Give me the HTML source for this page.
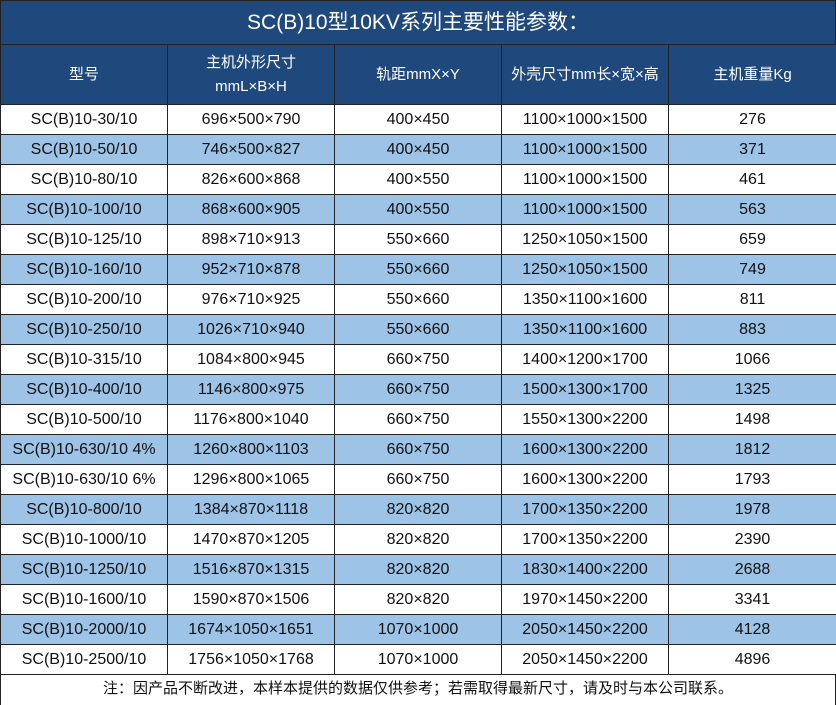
<!DOCTYPE html>
<html><head><meta charset="utf-8"><style>
body{margin:0;width:836px;height:705px;background:#fff;overflow:hidden;font-family:"Liberation Sans","Noto Sans CJK SC",sans-serif;}
.title{position:absolute;left:0;top:0;width:834px;height:44px;background:#1f487c;border:1px solid #222;border-bottom:none;color:#fff;font-size:21px;line-height:44px;text-align:center;}
table{position:absolute;left:0;top:44px;border-collapse:collapse;table-layout:fixed;width:836px;}
td,th{border:1px solid #222;text-align:center;font-size:16px;color:#111;padding:0;height:29px;font-weight:normal;white-space:nowrap;}
th{background:#1f487c;color:#fff;height:59px;line-height:24px;font-size:15px;}
tr.b td{background:#9dc3e6;}
.foot{position:absolute;left:0;top:674px;width:834px;height:31px;border-left:1px solid #222;border-right:1px solid #222;font-size:15px;line-height:30px;text-align:center;color:#111;}
</style></head><body>
<div class="title">SC(B)10型10KV系列主要性能参数：</div>
<table>
<colgroup><col style="width:167px"><col style="width:167px"><col style="width:167px"><col style="width:167px"><col style="width:168px"></colgroup>
<tr><th>型号</th><th>主机外形尺寸<br>mmL×B×H</th><th>轨距mmX×Y</th><th>外壳尺寸mm长×宽×高</th><th>主机重量Kg</th></tr>
<tr><td>SC(B)10-30/10</td><td>696×500×790</td><td>400×450</td><td>1100×1000×1500</td><td>276</td></tr>
<tr class="b"><td>SC(B)10-50/10</td><td>746×500×827</td><td>400×450</td><td>1100×1000×1500</td><td>371</td></tr>
<tr><td>SC(B)10-80/10</td><td>826×600×868</td><td>400×550</td><td>1100×1000×1500</td><td>461</td></tr>
<tr class="b"><td>SC(B)10-100/10</td><td>868×600×905</td><td>400×550</td><td>1100×1000×1500</td><td>563</td></tr>
<tr><td>SC(B)10-125/10</td><td>898×710×913</td><td>550×660</td><td>1250×1050×1500</td><td>659</td></tr>
<tr class="b"><td>SC(B)10-160/10</td><td>952×710×878</td><td>550×660</td><td>1250×1050×1500</td><td>749</td></tr>
<tr><td>SC(B)10-200/10</td><td>976×710×925</td><td>550×660</td><td>1350×1100×1600</td><td>811</td></tr>
<tr class="b"><td>SC(B)10-250/10</td><td>1026×710×940</td><td>550×660</td><td>1350×1100×1600</td><td>883</td></tr>
<tr><td>SC(B)10-315/10</td><td>1084×800×945</td><td>660×750</td><td>1400×1200×1700</td><td>1066</td></tr>
<tr class="b"><td>SC(B)10-400/10</td><td>1146×800×975</td><td>660×750</td><td>1500×1300×1700</td><td>1325</td></tr>
<tr><td>SC(B)10-500/10</td><td>1176×800×1040</td><td>660×750</td><td>1550×1300×2200</td><td>1498</td></tr>
<tr class="b"><td>SC(B)10-630/10 4%</td><td>1260×800×1103</td><td>660×750</td><td>1600×1300×2200</td><td>1812</td></tr>
<tr><td>SC(B)10-630/10 6%</td><td>1296×800×1065</td><td>660×750</td><td>1600×1300×2200</td><td>1793</td></tr>
<tr class="b"><td>SC(B)10-800/10</td><td>1384×870×1118</td><td>820×820</td><td>1700×1350×2200</td><td>1978</td></tr>
<tr><td>SC(B)10-1000/10</td><td>1470×870×1205</td><td>820×820</td><td>1700×1350×2200</td><td>2390</td></tr>
<tr class="b"><td>SC(B)10-1250/10</td><td>1516×870×1315</td><td>820×820</td><td>1830×1400×2200</td><td>2688</td></tr>
<tr><td>SC(B)10-1600/10</td><td>1590×870×1506</td><td>820×820</td><td>1970×1450×2200</td><td>3341</td></tr>
<tr class="b"><td>SC(B)10-2000/10</td><td>1674×1050×1651</td><td>1070×1000</td><td>2050×1450×2200</td><td>4128</td></tr>
<tr><td>SC(B)10-2500/10</td><td>1756×1050×1768</td><td>1070×1000</td><td>2050×1450×2200</td><td>4896</td></tr>
</table>
<div class="foot">注：因产品不断改进，本样本提供的数据仅供参考；若需取得最新尺寸，请及时与本公司联系。</div>
</body></html>
